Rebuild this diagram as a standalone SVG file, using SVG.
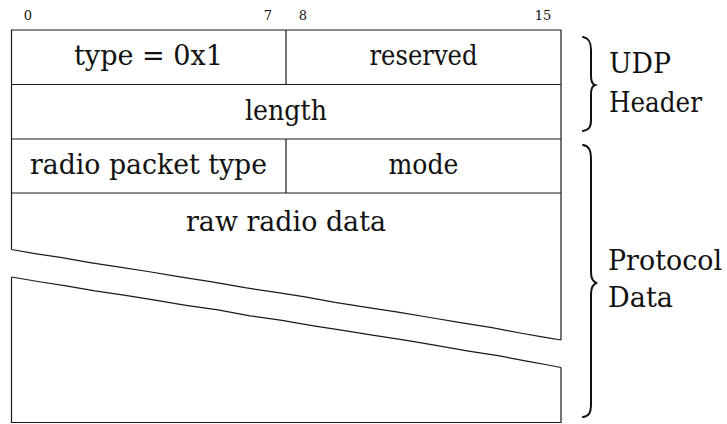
<svg xmlns="http://www.w3.org/2000/svg" width="727" height="424" viewBox="0 0 727 424">
  <style>
    .frame { fill: none; stroke: #1a1a1a; stroke-width: 1.2; stroke-linejoin: miter; }
    .tear { fill: none; stroke: #1a1a1a; stroke-width: 1.2; stroke-linejoin: round; }
    .brace { fill: none; stroke: #111; stroke-width: 2; stroke-linecap: round; }
    text { font-family: 'DejaVu Serif', 'Liberation Serif', serif; fill: #111; }
    .lbl { font-size: 27px; text-anchor: middle; }
    .side { font-size: 27px; }
    .bit { font-size: 13px; text-anchor: middle; }
  </style>

  <!-- bit positions -->
  <g id="bit-scale">
    <text class="bit" x="28" y="20">0</text>
    <text class="bit" x="268" y="20">7</text>
    <text class="bit" x="303" y="20">8</text>
    <text class="bit" x="543" y="20">15</text>
  </g>

  <!-- packet frame outline and row separators -->
  <g id="frame">
    <path class="frame" d="M11.5,249.5 L11.5,30 L561,30 L561,340"/>
    <path class="frame" d="M11.5,277 L11.5,422.5 L561,422.5 L561,367.5"/>
    <line class="frame" x1="11.5" y1="84.5" x2="561" y2="84.5"/>
    <line class="frame" x1="11.5" y1="139" x2="561" y2="139"/>
    <line class="frame" x1="11.5" y1="193" x2="561" y2="193"/>
    <line class="frame" x1="286" y1="30" x2="286" y2="84.5"/>
    <line class="frame" x1="286" y1="139" x2="286" y2="193"/>
  </g>

  <!-- torn edges of the variable-length data field -->
  <g id="tear">
    <polyline class="tear" points="11.5,249.5 35,253.6 62,257.7 90,262.6 118,266.9 148,271.5 180,276.8 212,281.8 245,287.7 278,292.6 305,296.8 335,302.4 365,307.1 398,312.1 430,317.5 462,322.9 492,327.6 520,333 545,337.3 561,340"/>
    <polyline class="tear" points="11.5,277 38,281.5 66,285.8 95,290.9 124,295.1 155,300.2 186,305.3 218,309.9 250,315.8 282,320.3 312,325.6 343,330.4 374,335.3 405,340.2 436,345.3 467,350.8 498,355.6 528,361.4 548,365 561,367.5"/>
  </g>

  <!-- header fields -->
  <g id="field-type">
    <text class="lbl" x="148.5" y="65" textLength="149" lengthAdjust="spacingAndGlyphs">type = 0x1</text>
  </g>
  <g id="field-reserved">
    <text class="lbl" x="423.5" y="65" textLength="108" lengthAdjust="spacingAndGlyphs">reserved</text>
  </g>
  <g id="field-length">
    <text class="lbl" x="286" y="119.5" textLength="82" lengthAdjust="spacingAndGlyphs">length</text>
  </g>

  <!-- protocol data fields -->
  <g id="field-radio-packet-type">
    <text class="lbl" x="148.5" y="174" textLength="237" lengthAdjust="spacingAndGlyphs">radio packet type</text>
  </g>
  <g id="field-mode">
    <text class="lbl" x="423.5" y="174" textLength="70" lengthAdjust="spacingAndGlyphs">mode</text>
  </g>
  <g id="field-raw-radio-data">
    <text class="lbl" x="286" y="231" textLength="200" lengthAdjust="spacingAndGlyphs">raw radio data</text>
  </g>

  <!-- section braces and their labels -->
  <g id="udp-header">
    <path class="brace" d="M583,37 C589,38 591,42 591,50 L591,76 C591,81 592,84 595,85 C592,86 591,89 591,94 L591,120 C591,127 589,130 583,131"/>
    <text class="side" x="609" y="73" textLength="62" lengthAdjust="spacingAndGlyphs">UDP</text>
    <text class="side" x="609" y="112" textLength="93" lengthAdjust="spacingAndGlyphs">Header</text>
  </g>
  <g id="protocol-data">
    <path class="brace" d="M583,145 C589,146 591,150 591,160 L591,272 C591,278 593,282 597,283 C593,284 591,288 591,294 L591,404 C591,413 589,416 583,417"/>
    <text class="side" x="608" y="270" textLength="114" lengthAdjust="spacingAndGlyphs">Protocol</text>
    <text class="side" x="608" y="307" textLength="65" lengthAdjust="spacingAndGlyphs">Data</text>
  </g>
</svg>
